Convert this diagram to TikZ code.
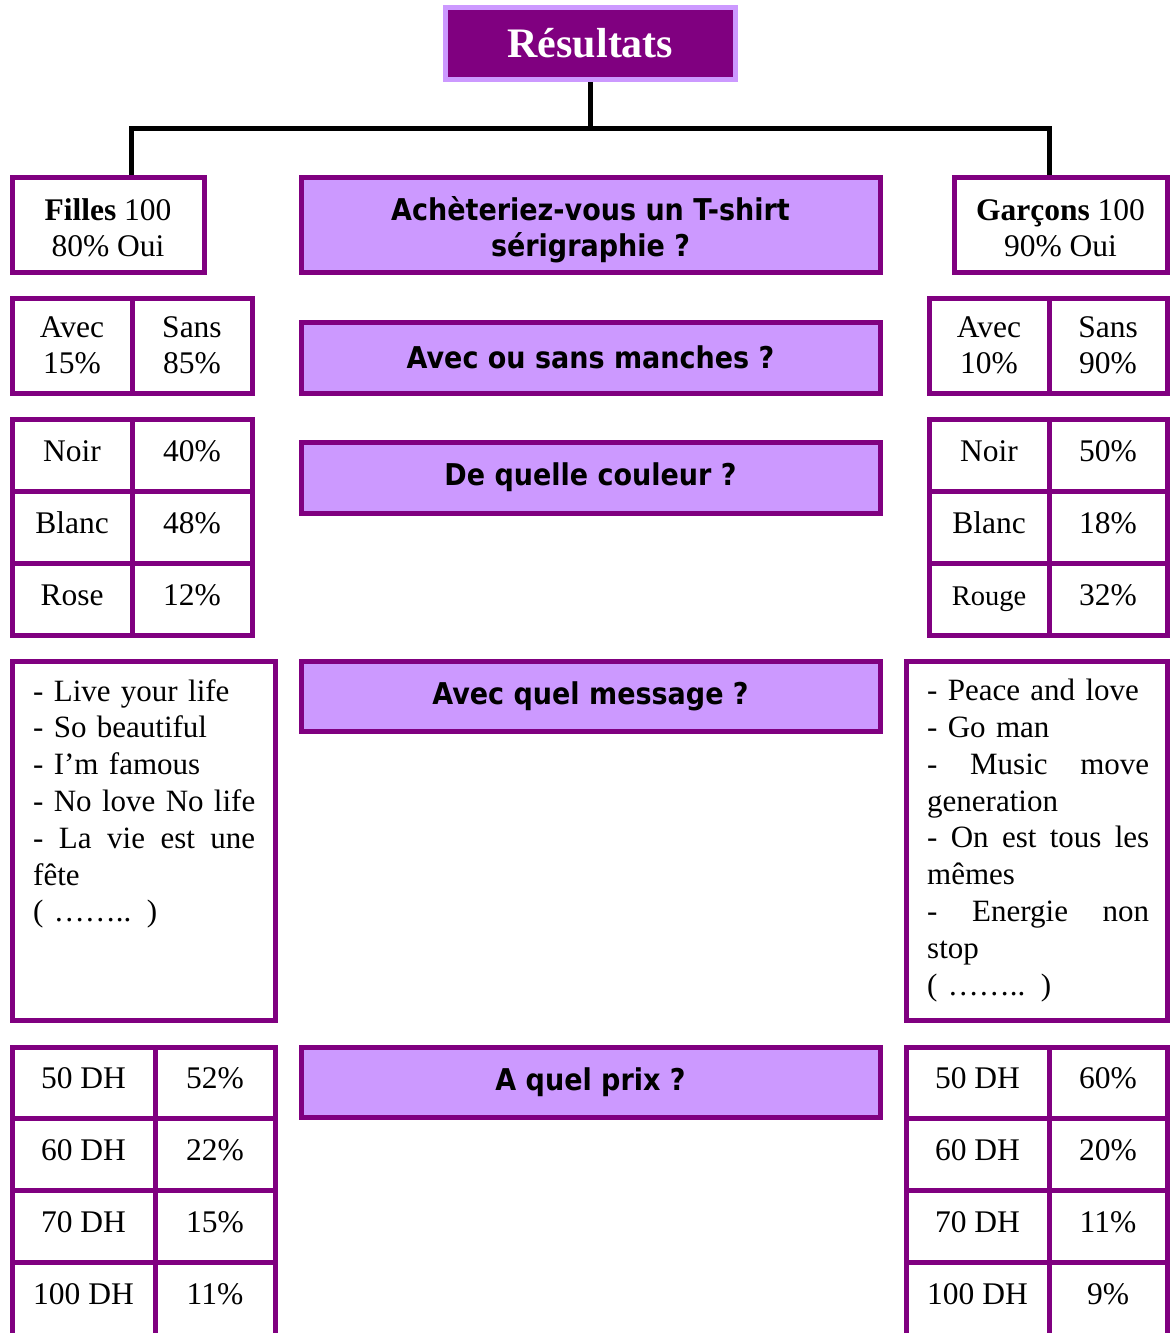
\documentclass[tikz,border=0pt]{standalone}
\usepackage{fontspec}
\setmainfont{Liberation Serif}
\newfontfamily\qfont[FakeStretch=0.9]{DejaVu Sans}
\definecolor{pur}{HTML}{800080}
\definecolor{lav}{HTML}{CC99FF}
\tikzset{
  pbox/.style={draw=pur, line width=5pt, fill=white, inner sep=0pt, align=center,
     font=\fontsize{31.5}{36.5}\selectfont},
  one/.style={text height=22pt, text depth=10pt},
  qbox/.style={draw=pur, line width=5pt, fill=lav, inner sep=0pt, align=center,
     font=\qfont\bfseries\fontsize{30}{36}\selectfont},
  msg/.style={anchor=north west, inner sep=0pt, text width=260pt, align=left,
     font=\fontsize{31}{36.8}\selectfont},
  conn/.style={draw=black, line width=5pt, line join=miter},
}
\newcommand{\jl}[1]{\leavevmode\hbox to 222pt{#1}}
\begin{document}
\begin{tikzpicture}[x=1pt,y=-1pt]
\useasboundingbox (0,0) rectangle (1171,1333);
\clip (0,0) rectangle (1171,1333);
\fill[white] (0,0) rectangle (1171,1333);

% title
\node[draw=lav, line width=5pt, fill=pur, minimum width=290pt, minimum height=72pt, inner sep=0pt,
  text=white, font=\bfseries\fontsize{42}{46}\selectfont] (title) at (590.5,43.5) {Résultats};

% top row
\node[pbox, minimum width=192pt, minimum height=95pt] (filles) at (108,224.5)
  {\rule{0pt}{28pt}\textbf{Filles} 100\\80\% Oui};
\node[pbox, minimum width=213pt, minimum height=95pt] (garcons) at (1060.5,224.5)
  {\rule{0pt}{28pt}\textbf{Garçons} 100\\90\% Oui};
\node[qbox, minimum width=579pt, minimum height=95pt] (q1) at (590.5,224.5)
  {\rule{0pt}{34pt}Achèteriez-vous un T-shirt\\sérigraphie ?};

% connectors
\coordinate (busL) at (131,128);
\coordinate (busR) at (1049,128);
\draw[conn] (title.south) -- (title.south |- busL);
\draw[conn] (busL |- filles.north) -- (busL) -- (busR) -- (busR |- garcons.north);

% sleeves
\node[pbox, minimum width=120pt, minimum height=95pt] (avecL) at (72,345.5) {Avec\\15\%};
\node[pbox, minimum width=120pt, minimum height=95pt] (sansL) at (192,345.5) {Sans\\85\%};
\node[pbox, minimum width=120pt, minimum height=95pt] (avecR) at (989,345.5) {Avec\\10\%};
\node[pbox, minimum width=118pt, minimum height=95pt] (sansR) at (1108,345.5) {Sans\\90\%};
\node[qbox, minimum width=579pt, minimum height=71pt] (q2) at (590.5,357.5) {Avec ou sans manches ?};

% colours
\node[pbox, one, minimum width=120pt, minimum height=72pt] (noirL) at (72,455) {Noir};
\node[pbox, one, minimum width=120pt, minimum height=72pt] (noirLp) at (192,455) {40\%};
\node[pbox, one, minimum width=120pt, minimum height=72pt] (blancL) at (72,527) {Blanc};
\node[pbox, one, minimum width=120pt, minimum height=72pt] (blancLp) at (192,527) {48\%};
\node[pbox, one, minimum width=120pt, minimum height=72pt] (roseL) at (72,599) {Rose};
\node[pbox, one, minimum width=120pt, minimum height=72pt] (roseLp) at (192,599) {12\%};
\node[pbox, one, minimum width=120pt, minimum height=72pt] (noirR) at (989,455) {Noir};
\node[pbox, one, minimum width=118pt, minimum height=72pt] (noirRp) at (1108,455) {50\%};
\node[pbox, one, minimum width=120pt, minimum height=72pt] (blancR) at (989,527) {Blanc};
\node[pbox, one, minimum width=118pt, minimum height=72pt] (blancRp) at (1108,527) {18\%};
\node[pbox, one, minimum width=120pt, minimum height=72pt, font=\fontsize{28.5}{33}\selectfont] (rougeR) at (989,599) {Rouge};
\node[pbox, one, minimum width=118pt, minimum height=72pt] (rougeRp) at (1108,599) {32\%};
\node[qbox, minimum width=579pt, minimum height=71pt] (q3) at (590.5,477.5) {De quelle couleur ?};

% messages
\node[pbox, minimum width=263pt, minimum height=359pt] (msgL) at (143.5,840.5) {};
\node[pbox, minimum width=261pt, minimum height=359pt] (msgR) at (1036.5,840.5) {};
\node[msg] (msgLt) at (33,679) {%
- Live your life\\
- So beautiful\\
- I’m famous\\
- No love No life\\
\jl{-\hfill La\hfill vie\hfill est\hfill une}\\
fête\\
( …….. )};
\node[msg] (msgRt) at (927,679) {%
- Peace and love\\
- Go man\\
\jl{-\hfill Music\hfill move}\\
generation\\
\jl{-\hfill On\hfill est\hfill tous\hfill les}\\
mêmes\\
\jl{-\hfill Energie\hfill non}\\
stop\\
( …….. )};
\node[qbox, minimum width=579pt, minimum height=70pt] (q4) at (590.5,696) {Avec quel message ?};

% prices
\node[pbox, one, minimum width=143pt, minimum height=71pt] (p50L) at (83.5,1082.5) {50 DH};
\node[pbox, one, minimum width=120pt, minimum height=71pt] (p50Lp) at (215,1082.5) {52\%};
\node[pbox, one, minimum width=143pt, minimum height=72pt] (p60L) at (83.5,1154) {60 DH};
\node[pbox, one, minimum width=120pt, minimum height=72pt] (p60Lp) at (215,1154) {22\%};
\node[pbox, one, minimum width=143pt, minimum height=72pt] (p70L) at (83.5,1226) {70 DH};
\node[pbox, one, minimum width=120pt, minimum height=72pt] (p70Lp) at (215,1226) {15\%};
\node[pbox, text height=22pt, text depth=16pt, minimum width=143pt, minimum height=78pt] (p100L) at (83.5,1301) {100 DH};
\node[pbox, text height=22pt, text depth=16pt, minimum width=120pt, minimum height=78pt] (p100Lp) at (215,1301) {11\%};
\node[pbox, one, minimum width=143pt, minimum height=71pt] (p50R) at (977.5,1082.5) {50 DH};
\node[pbox, one, minimum width=118pt, minimum height=71pt] (p50Rp) at (1108,1082.5) {60\%};
\node[pbox, one, minimum width=143pt, minimum height=72pt] (p60R) at (977.5,1154) {60 DH};
\node[pbox, one, minimum width=118pt, minimum height=72pt] (p60Rp) at (1108,1154) {20\%};
\node[pbox, one, minimum width=143pt, minimum height=72pt] (p70R) at (977.5,1226) {70 DH};
\node[pbox, one, minimum width=118pt, minimum height=72pt] (p70Rp) at (1108,1226) {11\%};
\node[pbox, text height=22pt, text depth=16pt, minimum width=143pt, minimum height=78pt] (p100R) at (977.5,1301) {100 DH};
\node[pbox, text height=22pt, text depth=16pt, minimum width=118pt, minimum height=78pt] (p100Rp) at (1108,1301) {9\%};
\node[qbox, minimum width=579pt, minimum height=70pt] (q5) at (590.5,1082) {A quel prix ?};
\end{tikzpicture}
\end{document}
